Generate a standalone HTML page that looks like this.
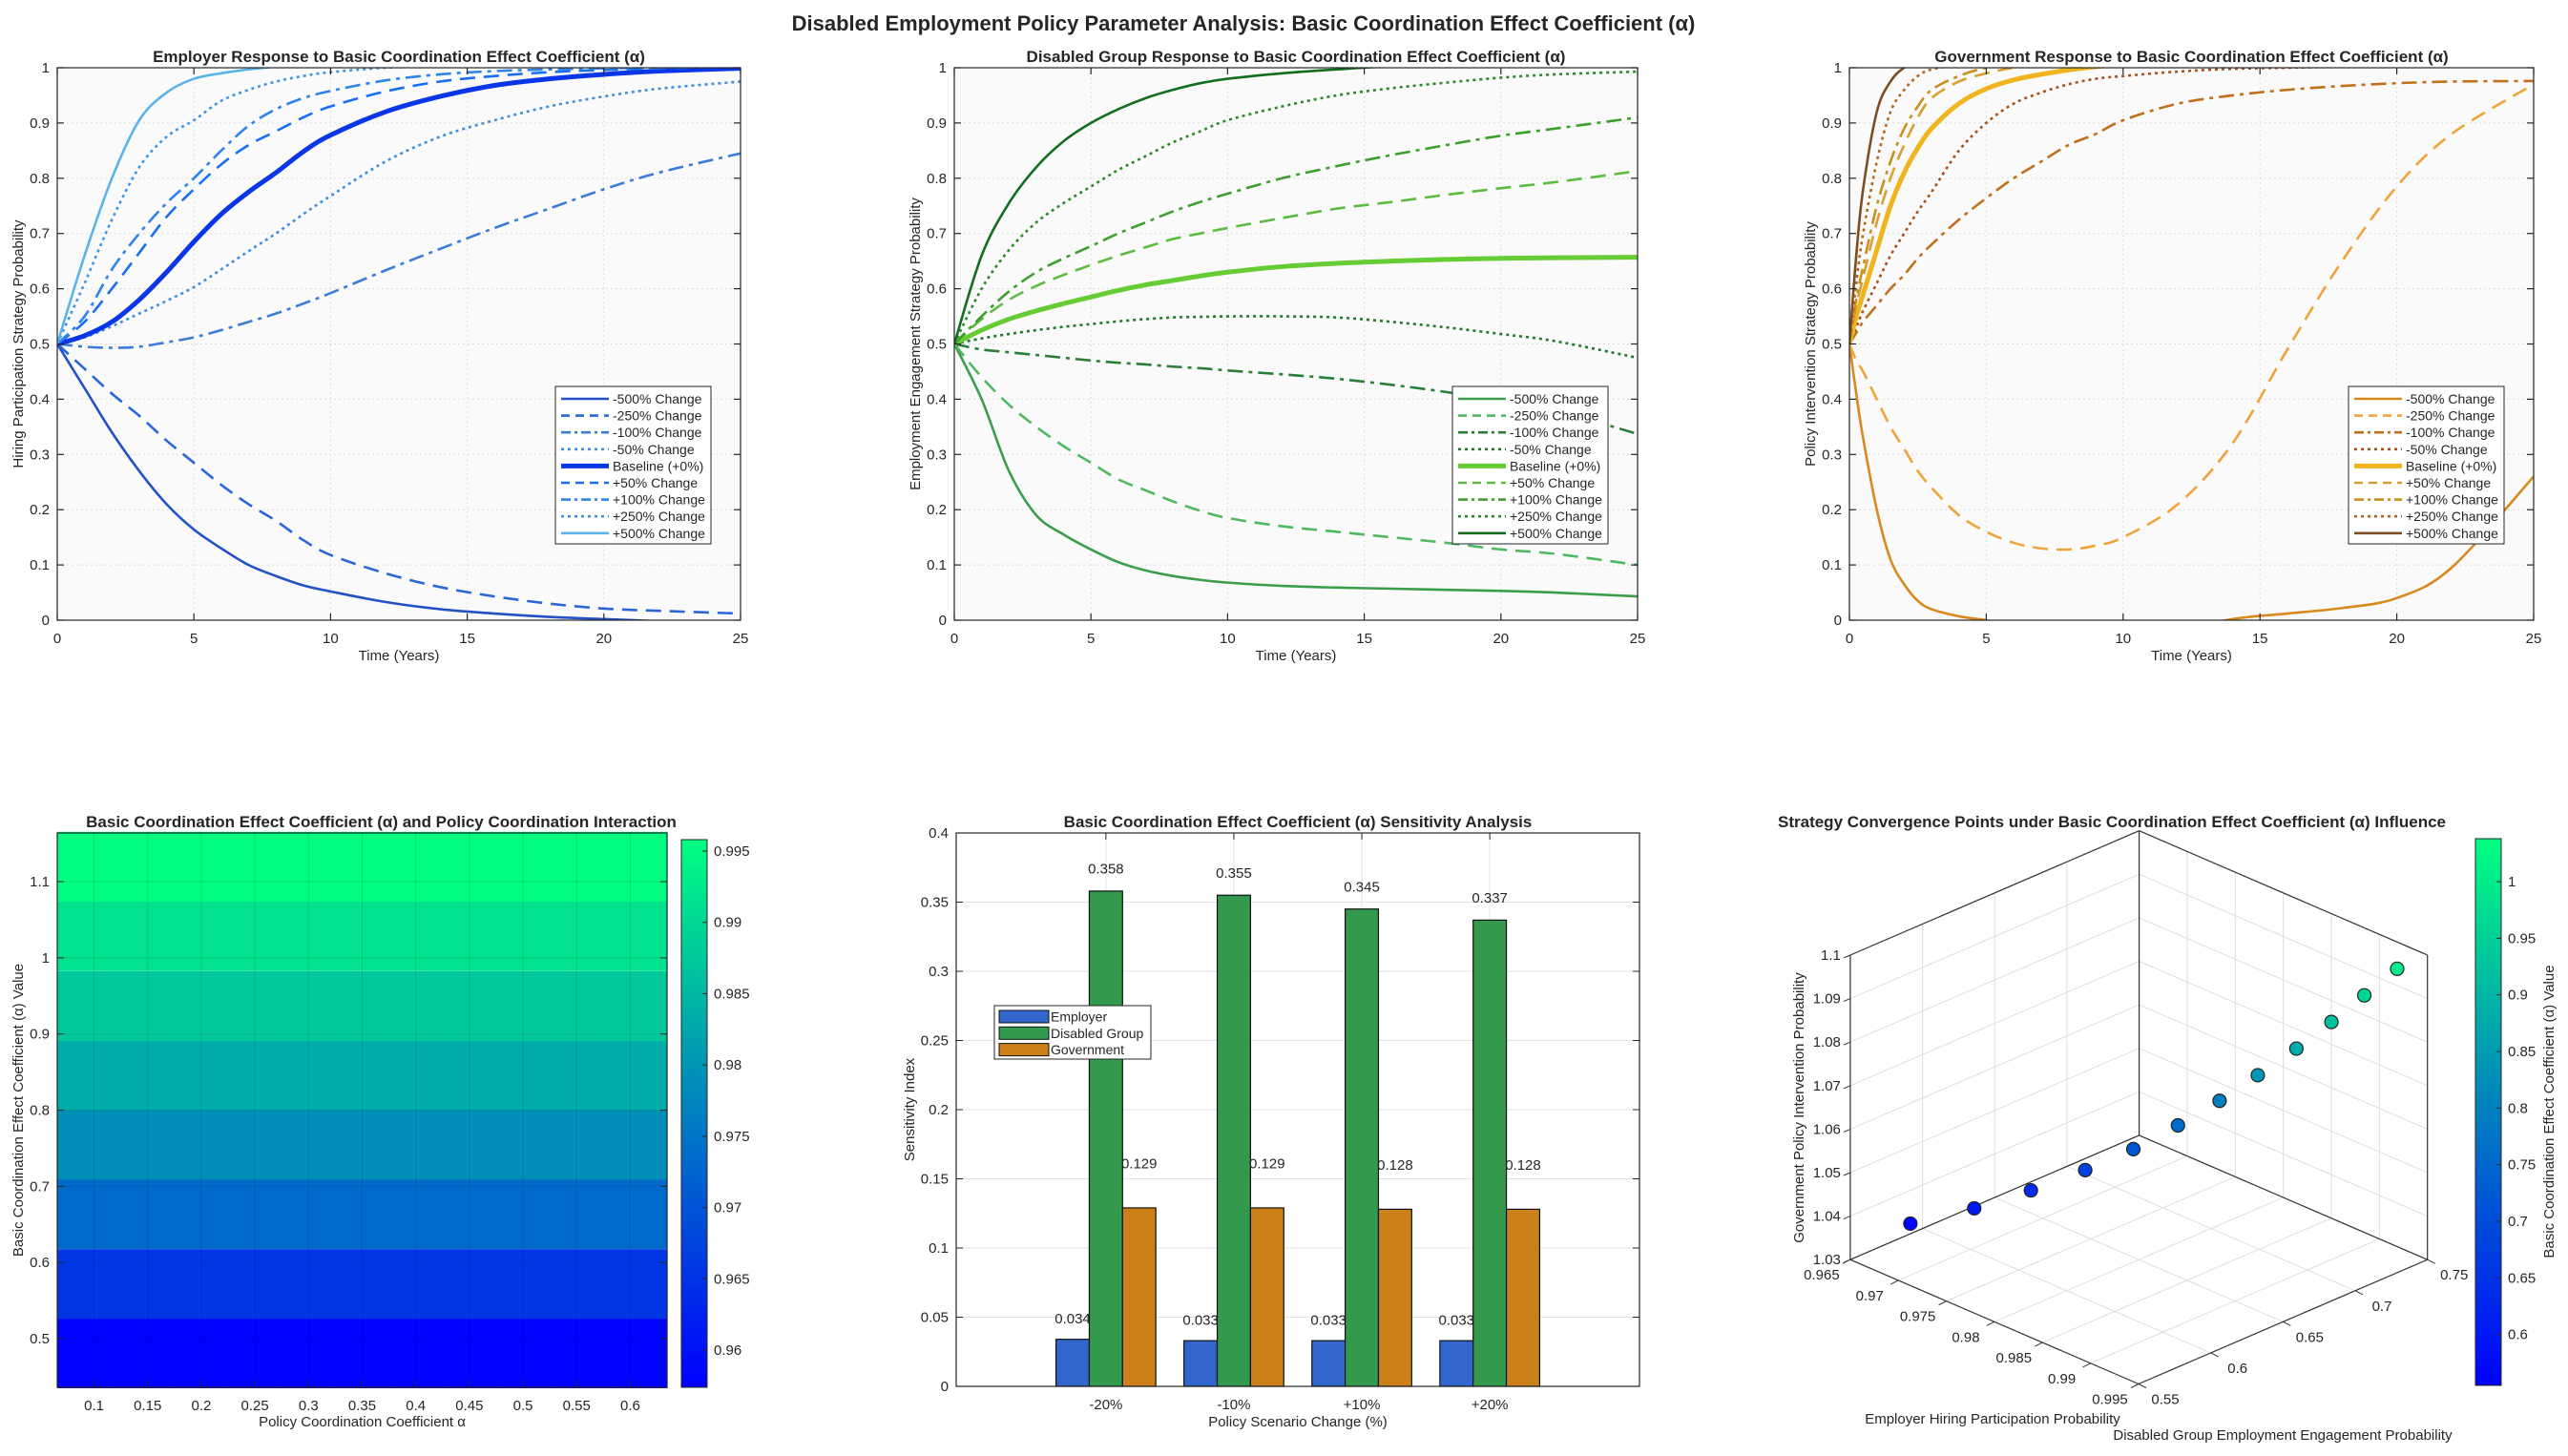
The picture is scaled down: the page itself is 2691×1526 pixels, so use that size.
<!DOCTYPE html>
<html><head><meta charset="utf-8"><title>Disabled Employment Policy Parameter Analysis</title>
<style>
html,body{margin:0;padding:0;background:#fff;}
svg{display:block;font-family:"Liberation Sans",Arial,sans-serif;}
text{fill:#262626;}
</style></head>
<body>
<svg id="fig" xmlns="http://www.w3.org/2000/svg" width="2691" height="1526" viewBox="0 0 2691 1526">
<rect x="0" y="0" width="2691" height="1526" fill="#ffffff"/>
<text x="1303" y="32" font-size="22" font-weight="bold" text-anchor="middle" fill="#000">Disabled Employment Policy Parameter Analysis: Basic Coordination Effect Coefficient (α)</text>
</svg>
<script>
// ===== Line panel data =====
const tA = [0,1,2,3,4,5,6,7,8,9,10,12,14,16,18,20,22,25];
const tG = [0,0.25,0.5,1,1.5,2,2.5,3,4,5,6,7,8,9,10,12,14,16,18,20,22,25];
const legendLabels = ['-500% Change','-250% Change','-100% Change','-50% Change','Baseline (+0%)','+50% Change','+100% Change','+250% Change','+500% Change'];
const yTicks = [0,0.1,0.2,0.3,0.4,0.5,0.6,0.7,0.8,0.9,1];
const yTickLabels = ['0','0.1','0.2','0.3','0.4','0.5','0.6','0.7','0.8','0.9','1'];
const xTicks = [0,5,10,15,20,25];

const empM500 = [0.5,0.42,0.34,0.27,0.21,0.164,0.13,0.10,0.08,0.063,0.052,0.033,0.02,0.012,0.006,0.002,-0.002,-0.01];
const empM250 = [0.5,0.455,0.41,0.37,0.325,0.285,0.245,0.21,0.18,0.145,0.118,0.085,0.06,0.043,0.03,0.021,0.017,0.012];
const empM100 = [0.5,0.495,0.493,0.495,0.503,0.512,0.525,0.54,0.555,0.573,0.592,0.633,0.672,0.71,0.745,0.78,0.81,0.845];
const empM50  = [0.5,0.512,0.532,0.555,0.578,0.603,0.635,0.668,0.7,0.735,0.768,0.83,0.875,0.905,0.93,0.948,0.962,0.975];
const empBase = [0.5,0.515,0.54,0.58,0.63,0.685,0.735,0.775,0.81,0.848,0.878,0.92,0.948,0.968,0.98,0.988,0.994,0.999];
const empP50  = [0.5,0.54,0.6,0.665,0.73,0.78,0.825,0.86,0.885,0.91,0.93,0.957,0.975,0.985,0.992,0.996,0.999,1.002];
const empP100 = [0.5,0.55,0.635,0.7,0.755,0.8,0.85,0.895,0.925,0.945,0.958,0.977,0.988,0.994,0.997,0.999,1.0,1.002];
const empP250 = [0.5,0.61,0.725,0.82,0.875,0.905,0.94,0.96,0.975,0.985,0.992,1.0,1.005,1.008,1.01,1.01,1.01,1.01];
const empP500 = [0.5,0.66,0.8,0.905,0.955,0.98,0.99,0.997,1.002,1.006,1.01,1.01,1.01,1.01,1.01,1.01,1.01,1.01];

const disM500 = [0.5,0.40,0.27,0.19,0.155,0.128,0.105,0.09,0.08,0.073,0.068,0.062,0.059,0.057,0.055,0.053,0.05,0.043];
const disM250 = [0.5,0.44,0.39,0.35,0.315,0.285,0.255,0.235,0.215,0.198,0.185,0.17,0.16,0.15,0.14,0.128,0.12,0.1];
const disM100 = [0.5,0.49,0.485,0.48,0.475,0.47,0.466,0.463,0.459,0.456,0.452,0.445,0.437,0.426,0.413,0.398,0.38,0.337];
const disM50  = [0.5,0.51,0.518,0.525,0.531,0.536,0.541,0.545,0.548,0.549,0.55,0.55,0.548,0.54,0.53,0.518,0.505,0.475];
const disBase = [0.5,0.525,0.545,0.56,0.573,0.585,0.597,0.607,0.615,0.623,0.63,0.64,0.646,0.65,0.653,0.655,0.656,0.657];
const disP50  = [0.5,0.545,0.58,0.605,0.625,0.643,0.66,0.675,0.69,0.70,0.71,0.728,0.745,0.757,0.77,0.782,0.793,0.813];
const disP100 = [0.5,0.55,0.595,0.63,0.655,0.677,0.7,0.72,0.74,0.757,0.772,0.8,0.822,0.842,0.86,0.877,0.89,0.91];
const disP250 = [0.5,0.6,0.67,0.72,0.755,0.785,0.815,0.84,0.865,0.885,0.905,0.93,0.95,0.963,0.973,0.982,0.988,0.993];
const disP500 = [0.5,0.66,0.755,0.82,0.867,0.9,0.925,0.945,0.96,0.972,0.98,0.99,0.997,1.003,1.006,1.008,1.01,1.01];

const govM500 = [0.5,0.41,0.33,0.20,0.11,0.065,0.035,0.02,0.007,0.0,-0.01,-0.02,-0.03,-0.035,-0.035,-0.02,0.002,0.012,0.022,0.04,0.095,0.26];
const govM250 = [0.5,0.47,0.45,0.40,0.35,0.31,0.27,0.24,0.19,0.16,0.14,0.13,0.128,0.135,0.15,0.21,0.32,0.49,0.65,0.785,0.88,0.97];
const govM100 = [0.5,0.52,0.54,0.57,0.6,0.625,0.655,0.68,0.725,0.764,0.80,0.83,0.86,0.88,0.905,0.935,0.95,0.96,0.967,0.972,0.975,0.976];
const govM50  = [0.5,0.53,0.56,0.61,0.66,0.70,0.74,0.775,0.85,0.9,0.935,0.955,0.97,0.98,0.985,0.993,0.998,1.0,1.002,1.004,1.005,1.005];
const govBase = [0.5,0.55,0.59,0.67,0.75,0.81,0.855,0.89,0.935,0.962,0.978,0.988,0.996,1.002,1.005,1.008,1.01,1.01,1.01,1.01,1.01,1.01];
const govP50  = [0.5,0.57,0.62,0.72,0.8,0.86,0.91,0.945,0.975,0.99,1.0,1.005,1.008,1.01,1.01,1.01,1.01,1.01,1.01,1.01,1.01,1.01];
const govP100 = [0.5,0.58,0.64,0.75,0.83,0.89,0.93,0.96,0.985,1.0,1.005,1.008,1.01,1.01,1.01,1.01,1.01,1.01,1.01,1.01,1.01,1.01];
const govP250 = [0.5,0.61,0.7,0.83,0.92,0.96,0.985,0.997,1.005,1.01,1.01,1.01,1.01,1.01,1.01,1.01,1.01,1.01,1.01,1.01,1.01,1.01];
const govP500 = [0.5,0.66,0.78,0.92,0.975,1.0,1.01,1.015,1.02,1.02,1.02,1.02,1.02,1.02,1.02,1.02,1.02,1.02,1.02,1.02,1.02,1.02];

// ===== Heatmap data =====
const heatAlpha = [0.481,0.572,0.664,0.755,0.846,0.937,1.029,1.12];
const heatPolicy = [0.0916,0.1433,0.195,0.2467,0.2984,0.35,0.4017,0.4534,0.505,0.5567,0.6084];
const heatRowVals = [0.9575,0.9655,0.9735,0.979,0.9835,0.9875,0.9915,0.9955];
const heatXTicks = [0.1,0.15,0.2,0.25,0.3,0.35,0.4,0.45,0.5,0.55,0.6];
const heatYTicks = [0.5,0.6,0.7,0.8,0.9,1,1.1];
const heatCbTicks = [0.96,0.965,0.97,0.975,0.98,0.985,0.99,0.995];

// ===== Bar chart data =====
const barCats = ['-20%','-10%','+10%','+20%'];
const barEmployer = [0.034,0.033,0.033,0.033];
const barDisabled = [0.358,0.355,0.345,0.337];
const barGovernment = [0.129,0.129,0.128,0.128];
const barYTicks = [0,0.05,0.1,0.15,0.2,0.25,0.3,0.35,0.4];
const barYTickLabels = ['0','0.05','0.1','0.15','0.2','0.25','0.3','0.35','0.4'];

// ===== 3D scatter data =====
const scEmployer = [0.9664,0.9684,0.9697,0.9706,0.9711,0.9737,0.9771,0.9802,0.9832,0.9860,0.9887,0.9914];
const scDisabled = [0.5823,0.6132,0.6438,0.6754,0.7054,0.719,0.7252,0.731,0.7378,0.7434,0.7482,0.753];
const scGovernment = [1.035,1.036,1.037,1.038,1.039,1.045,1.053,1.061,1.069,1.077,1.085,1.093];
const scAlpha = [0.56,0.6,0.64,0.68,0.72,0.76,0.8,0.84,0.88,0.92,0.96,1.0];
const scZTicks = [1.03,1.04,1.05,1.06,1.07,1.08,1.09,1.1];
const scEmpTicks = [0.965,0.97,0.975,0.98,0.985,0.99,0.995];
const scDisTicks = [0.55,0.6,0.65,0.7,0.75];
const scCbTicks = [0.6,0.65,0.7,0.75,0.8,0.85,0.9,0.95,1];

const NS = 'http://www.w3.org/2000/svg';
const svg = document.getElementById('fig');
function mk(tag, attrs, parent) {
  const e = document.createElementNS(NS, tag);
  for (const k in attrs) e.setAttribute(k, attrs[k]);
  (parent || svg).appendChild(e);
  return e;
}
function txt(s, attrs, parent) { const e = mk('text', attrs, parent); e.textContent = s; return e; }
function winter(t) { t = Math.max(0, Math.min(1, t)); return 'rgb(0,' + Math.round(255 * t) + ',' + Math.round(255 * (1 - 0.5 * t)) + ')'; }
function smooth(pts) {
  let d = 'M' + pts[0][0].toFixed(2) + ',' + pts[0][1].toFixed(2);
  for (let i = 0; i < pts.length - 1; i++) {
    const p0 = pts[Math.max(0, i - 1)], p1 = pts[i], p2 = pts[i + 1], p3 = pts[Math.min(pts.length - 1, i + 2)];
    const c1x = p1[0] + (p2[0] - p0[0]) / 6, c1y = p1[1] + (p2[1] - p0[1]) / 6;
    const c2x = p2[0] - (p3[0] - p1[0]) / 6, c2y = p2[1] - (p3[1] - p1[1]) / 6;
    d += ' C' + c1x.toFixed(2) + ',' + c1y.toFixed(2) + ' ' + c2x.toFixed(2) + ',' + c2y.toFixed(2) + ' ' + p2[0].toFixed(2) + ',' + p2[1].toFixed(2);
  }
  return d;
}
const dashes = ['', '16,9', '16,6,4,6', '3,4', '', '16,9', '16,6,4,6', '3,4', ''];
const widths = [2.6, 2.6, 2.6, 2.6, 5, 2.6, 2.6, 2.6, 2.6];
const seriesNames = ['minus-500','minus-250','minus-100','minus-50','baseline','plus-50','plus-100','plus-250','plus-500'];

function linePanel(p) {
  const g = mk('g', {});
  
  
  const sx = v => p.L + v / 25 * (p.R - p.L);
  const sy = v => p.B - v * (p.B - p.T);
  const bg = mk('rect', {x: p.L, y: p.T, width: p.R - p.L, height: p.B - p.T, fill: '#fafafa'}, g);
  
  
  yTicks.forEach(v => {
    const l = mk('line', {x1: p.L, x2: p.R, y1: sy(v), y2: sy(v), stroke: '#dcdcdc', 'stroke-width': 1, 'stroke-dasharray': '2,3'}, g);
    
    
  });
  xTicks.forEach(v => {
    const l = mk('line', {x1: sx(v), x2: sx(v), y1: p.T, y2: p.B, stroke: '#dcdcdc', 'stroke-width': 1, 'stroke-dasharray': '2,3'}, g);
    
    
  });
  const cp = mk('clipPath', {id: p.name + '-clip'}, g);
  mk('rect', {x: p.L, y: p.T, width: p.R - p.L, height: p.B - p.T}, cp);
  const lg = mk('g', {'clip-path': 'url(#' + p.name + '-clip)'}, g);
  
  
  p.series.forEach((arr, i) => {
    const pts = arr.map((v, j) => [sx(p.t[j]), sy(v)]);
    const a = {d: smooth(pts), fill: 'none', stroke: p.colors[i], 'stroke-width': widths[i], 'stroke-linejoin': 'round'};
    if (dashes[i]) a['stroke-dasharray'] = dashes[i];
    const path = mk('path', a, lg);
    
    
  });
  const box = mk('rect', {x: p.L, y: p.T, width: p.R - p.L, height: p.B - p.T, fill: 'none', stroke: '#262626', 'stroke-width': 1.2}, g);
  
  
  yTicks.forEach((v, i) => {
    mk('line', {x1: p.L, x2: p.L + 7, y1: sy(v), y2: sy(v), stroke: '#262626', 'stroke-width': 1.2}, g);
    mk('line', {x1: p.R, x2: p.R - 7, y1: sy(v), y2: sy(v), stroke: '#262626', 'stroke-width': 1.2}, g);
    const t = txt(yTickLabels[i], {x: p.L - 8, y: sy(v) + 5, 'font-size': 15, 'text-anchor': 'end'}, g);
    
    
  });
  xTicks.forEach(v => {
    mk('line', {x1: sx(v), x2: sx(v), y1: p.B, y2: p.B - 7, stroke: '#262626', 'stroke-width': 1.2}, g);
    mk('line', {x1: sx(v), x2: sx(v), y1: p.T, y2: p.T + 7, stroke: '#262626', 'stroke-width': 1.2}, g);
    const t = txt(String(v), {x: sx(v), y: p.B + 24, 'font-size': 15, 'text-anchor': 'middle'}, g);
    
    
  });
  const ti = txt(p.title, {x: (p.L + p.R) / 2, y: p.T - 6, 'font-size': 17, 'font-weight': 'bold', 'text-anchor': 'middle', fill: '#000'}, g);
  
  
  const xl = txt('Time (Years)', {x: (p.L + p.R) / 2, y: p.B + 42, 'font-size': 15, 'text-anchor': 'middle'}, g);
  
  
  const cy = (p.T + p.B) / 2;
  const yl = txt(p.ylabel, {x: p.L - 36, y: cy, 'font-size': 15, 'text-anchor': 'middle', transform: 'rotate(-90 ' + (p.L - 36) + ' ' + cy + ')'}, g);
  
  
  const lgR = p.R - 31, lgL = lgR - 163, lgT = 405, lgH = 165;
  const leg = mk('g', {}, g);
  
  
  mk('rect', {x: lgL, y: lgT, width: lgR - lgL, height: lgH, fill: '#fff', stroke: '#262626', 'stroke-width': 1}, leg);
  legendLabels.forEach((lab, i) => {
    const yy = lgT + 13 + i * 17.6;
    const e = mk('g', {}, leg);
    
    
    const a = {x1: lgL + 6, x2: lgL + 56, y1: yy, y2: yy, stroke: p.colors[i], 'stroke-width': widths[i]};
    if (dashes[i]) a['stroke-dasharray'] = dashes[i] === '16,9' ? '9,6' : dashes[i] === '16,6,4,6' ? '10,4,3,4' : dashes[i];
    mk('line', a, e);
    txt(lab, {x: lgL + 60, y: yy + 5, 'font-size': 14}, e);
  });
}

linePanel({name: 'employer-panel', L: 60, R: 776, T: 71, B: 650, t: tA,
  series: [empM500, empM250, empM100, empM50, empBase, empP50, empP100, empP250, empP500],
  colors: ['#2352c6', '#2a66d8', '#3a7cd8', '#3d8fe0', '#0a36e8', '#1a6ff0', '#2e84e8', '#3d95e6', '#5ab4e8'],
  title: 'Employer Response to Basic Coordination Effect Coefficient (α)', ylabel: 'Hiring Participation Strategy Probability'});
linePanel({name: 'disabled-group-panel', L: 1000, R: 1716, T: 71, B: 650, t: tA,
  series: [disM500, disM250, disM100, disM50, disBase, disP50, disP100, disP250, disP500],
  colors: ['#3c9e4c', '#50b860', '#2a7e36', '#1f7a2a', '#66cc33', '#5cbc40', '#3f9e30', '#2a8a2a', '#146e20'],
  title: 'Disabled Group Response to Basic Coordination Effect Coefficient (α)', ylabel: 'Employment Engagement Strategy Probability'});
linePanel({name: 'government-panel', L: 1938, R: 2655, T: 71, B: 650, t: tG,
  series: [govM500, govM250, govM100, govM50, govBase, govP50, govP100, govP250, govP500],
  colors: ['#d98a1e', '#f0a33a', '#c0701a', '#a8521a', '#f0b41e', '#d8a030', '#c8901e', '#b5651d', '#7d4e24'],
  title: 'Government Response to Basic Coordination Effect Coefficient (α)', ylabel: 'Policy Intervention Strategy Probability'});

// ===== Heatmap =====
(function () {
  const L = 60, R = 699, T = 873, B = 1454, xmin = 0.0657, xmax = 0.6343, ymin = 0.436, ymax = 1.164;
  const vmin = 0.9574, vmax = 0.9958;
  const sx = v => L + (v - xmin) / (xmax - xmin) * (R - L);
  const sy = v => B - (v - ymin) / (ymax - ymin) * (B - T);
  const g = mk('g', {});
  
  
  const dy = heatAlpha[1] - heatAlpha[0], dx = heatPolicy[1] - heatPolicy[0];
  heatAlpha.forEach((a, i) => {
    heatPolicy.forEach((pv, j) => {
      const x0 = sx(pv - dx / 2), x1 = sx(pv + dx / 2), y0 = sy(a + dy / 2), y1 = sy(a - dy / 2);
      const c = mk('rect', {x: x0, y: y0, width: x1 - x0 + 0.6, height: y1 - y0 + 0.6, fill: winter((heatRowVals[i] - vmin) / (vmax - vmin))}, g);
      
      
    });
  });
  heatXTicks.forEach(v => {
    mk('line', {x1: sx(v), x2: sx(v), y1: T, y2: B, stroke: '#000', 'stroke-opacity': 0.12, 'stroke-width': 1}, g);
    mk('line', {x1: sx(v), x2: sx(v), y1: B, y2: B - 7, stroke: '#262626'}, g);
    const t = txt(String(v), {x: sx(v), y: B + 24, 'font-size': 15, 'text-anchor': 'middle'}, g);
    
    
  });
  heatYTicks.forEach(v => {
    mk('line', {x1: L, x2: R, y1: sy(v), y2: sy(v), stroke: '#000', 'stroke-opacity': 0.1, 'stroke-width': 1}, g);
    mk('line', {x1: L, x2: L + 7, y1: sy(v), y2: sy(v), stroke: '#262626'}, g);
    mk('line', {x1: R, x2: R - 7, y1: sy(v), y2: sy(v), stroke: '#262626'}, g);
    const t = txt(String(v), {x: L - 8, y: sy(v) + 5, 'font-size': 15, 'text-anchor': 'end'}, g);
    
    
  });
  mk('rect', {x: L, y: T, width: R - L, height: B - T, fill: 'none', stroke: '#262626', 'stroke-width': 1.2}, g);
  const ti = txt('Basic Coordination Effect Coefficient (α) and Policy Coordination Interaction', {x: (L + R) / 2 + 20, y: 867, 'font-size': 17, 'font-weight': 'bold', 'text-anchor': 'middle', fill: '#000'}, g);
  
  
  const xl = txt('Policy Coordination Coefficient α', {x: (L + R) / 2, y: 1495, 'font-size': 15, 'text-anchor': 'middle'}, g);
  
  
  const cy = (T + B) / 2;
  const yl = txt('Basic Coordination Effect Coefficient (α) Value', {x: 24, y: cy, 'font-size': 15, 'text-anchor': 'middle', transform: 'rotate(-90 24 ' + cy + ')'}, g);
  
  
  const cb = mk('g', {}, g);
  
  
  const CL = 714, CR = 741, CT = 880, CB = 1454;
  const grad = mk('linearGradient', {id: 'wgrad1', x1: 0, y1: 1, x2: 0, y2: 0}, cb);
  mk('stop', {offset: 0, 'stop-color': winter(0)}, grad);
  mk('stop', {offset: 1, 'stop-color': winter(1)}, grad);
  mk('rect', {x: CL, y: CT, width: CR - CL, height: CB - CT, fill: 'url(#wgrad1)', stroke: '#262626', 'stroke-width': 1}, cb);
  heatCbTicks.forEach(v => {
    const y = CB - (v - vmin) / (vmax - vmin) * (CB - CT);
    mk('line', {x1: CR, x2: CR - 5, y1: y, y2: y, stroke: '#262626'}, cb);
    const t = txt(String(v), {x: CR + 7, y: y + 5, 'font-size': 15}, cb);
    
    
  });
})();

// ===== Bar chart =====
(function () {
  const L = 1002, R = 1718, T = 873, B = 1453, xmin = -0.17, xmax = 5.17, ymax = 0.4;
  const sx = v => L + (v - xmin) / (xmax - xmin) * (R - L);
  const sy = v => B - v / ymax * (B - T);
  const g = mk('g', {});
  
  
  barYTicks.forEach((v, i) => {
    mk('line', {x1: L, x2: R, y1: sy(v), y2: sy(v), stroke: '#e3e3e3', 'stroke-width': 1}, g);
    mk('line', {x1: L, x2: L + 7, y1: sy(v), y2: sy(v), stroke: '#262626'}, g);
    mk('line', {x1: R, x2: R - 7, y1: sy(v), y2: sy(v), stroke: '#262626'}, g);
    const t = txt(barYTickLabels[i], {x: L - 8, y: sy(v) + 5, 'font-size': 15, 'text-anchor': 'end'}, g);
    
    
  });
  barCats.forEach((c, i) => {
    const x = sx(i + 1);
    mk('line', {x1: x, x2: x, y1: T, y2: B, stroke: '#e3e3e3', 'stroke-width': 1}, g);
    mk('line', {x1: x, x2: x, y1: B, y2: B - 7, stroke: '#262626'}, g);
    mk('line', {x1: x, x2: x, y1: T, y2: T + 7, stroke: '#262626'}, g);
    const t = txt(c, {x: x, y: B + 24, 'font-size': 15, 'text-anchor': 'middle'}, g);
    
    
  });
  const groups = [barEmployer, barDisabled, barGovernment];
  const gColors = ['#3366cc', '#33994d', '#cc801a'];
  const gNames = ['employer', 'disabled-group', 'government'];
  const offs = [-0.26, 0, 0.26], lblOff = [0.015, 0.016, 0.032], bw = 0.26;
  groups.forEach((arr, k) => {
    arr.forEach((v, i) => {
      const xc = sx(i + 1 + offs[k]);
      const w = sx(bw) - sx(0);
      const b = mk('rect', {x: xc - w / 2, y: sy(v), width: w, height: sy(0) - sy(v), fill: gColors[k], stroke: '#111', 'stroke-width': 1.2}, g);
      
      
      const t = txt(v.toFixed(3), {x: xc, y: sy(v + lblOff[k]) + 5, 'font-size': 15, 'text-anchor': 'middle'}, g);
      
      
    });
  });
  mk('rect', {x: L, y: T, width: R - L, height: B - T, fill: 'none', stroke: '#262626', 'stroke-width': 1.2}, g);
  const ti = txt('Basic Coordination Effect Coefficient (α) Sensitivity Analysis', {x: (L + R) / 2, y: 867, 'font-size': 17, 'font-weight': 'bold', 'text-anchor': 'middle', fill: '#000'}, g);
  
  
  const xl = txt('Policy Scenario Change (%)', {x: (L + R) / 2, y: 1495, 'font-size': 15, 'text-anchor': 'middle'}, g);
  
  
  const cy = (T + B) / 2;
  const yl = txt('Sensitivity Index', {x: 958, y: cy, 'font-size': 15, 'text-anchor': 'middle', transform: 'rotate(-90 958 ' + cy + ')'}, g);
  
  
  const leg = mk('g', {}, g);
  
  
  mk('rect', {x: 1042, y: 1054, width: 164, height: 56, fill: '#fff', stroke: '#262626', 'stroke-width': 1}, leg);
  ['Employer', 'Disabled Group', 'Government'].forEach((lab, k) => {
    const yy = 1059 + k * 17.3;
    const e = mk('g', {}, leg);
    
    
    mk('rect', {x: 1047, y: yy, width: 52, height: 13, fill: gColors[k], stroke: '#111', 'stroke-width': 1}, e);
    txt(lab, {x: 1101, y: yy + 11.5, 'font-size': 14}, e);
  });
})();

// ===== 3D scatter =====
(function () {
  const F = [2241, 1450.5], dL = [-302.1, -130.3], dR = [302.7, -130.3], zs = 4560;
  const P = (e, d, z) => {
    const u = (e - 0.995) / -0.03, v = (d - 0.55) / 0.2;
    return [F[0] + u * dL[0] + v * dR[0], F[1] + u * dL[1] + v * dR[1] - (z - 1.03) * zs];
  };
  const g = mk('g', {});
  
  
  const ln = (a, b, st, w, nm) => {
    const l = mk('line', {x1: a[0], y1: a[1], x2: b[0], y2: b[1], stroke: st, 'stroke-width': w}, g);
    
    
    return l;
  };
  const grid = '#dedede';
  scDisTicks.forEach(d => { ln(P(0.965, d, 1.03), P(0.965, d, 1.1), grid, 1, 'gridline'); ln(P(0.965, d, 1.03), P(0.995, d, 1.03), grid, 1, 'gridline'); });
  scEmpTicks.forEach(e => { ln(P(e, 0.75, 1.03), P(e, 0.75, 1.1), grid, 1, 'gridline'); ln(P(e, 0.55, 1.03), P(e, 0.75, 1.03), grid, 1, 'gridline'); });
  scZTicks.forEach(z => { ln(P(0.965, 0.55, z), P(0.965, 0.75, z), grid, 1, 'gridline'); ln(P(0.965, 0.75, z), P(0.995, 0.75, z), grid, 1, 'gridline'); });
  const ax = '#333';
  ln(P(0.965, 0.55, 1.03), P(0.965, 0.55, 1.1), ax, 1.2, 'z-axis-line');
  ln(P(0.965, 0.75, 1.03), P(0.965, 0.75, 1.1), ax, 1.2, 'box-edge');
  ln(P(0.995, 0.75, 1.03), P(0.995, 0.75, 1.1), ax, 1.2, 'box-edge');
  ln(P(0.965, 0.55, 1.1), P(0.965, 0.75, 1.1), ax, 1.2, 'box-edge');
  ln(P(0.965, 0.75, 1.1), P(0.995, 0.75, 1.1), ax, 1.2, 'box-edge');
  ln(P(0.965, 0.55, 1.03), P(0.965, 0.75, 1.03), ax, 1.2, 'box-edge');
  ln(P(0.965, 0.75, 1.03), P(0.995, 0.75, 1.03), ax, 1.2, 'box-edge');
  ln(P(0.965, 0.55, 1.03), P(0.995, 0.55, 1.03), ax, 1.2, 'x-axis-line');
  ln(P(0.995, 0.55, 1.03), P(0.995, 0.75, 1.03), ax, 1.2, 'y-axis-line');
  scZTicks.forEach(z => {
    const p = P(0.965, 0.55, z);
    ln(p, [p[0] - 7, p[1] + 3], ax, 1, 'z-tick');
    const t = txt(String(z), {x: p[0] - 10, y: p[1] + 5, 'font-size': 15, 'text-anchor': 'end'}, g);
    
    
  });
  scEmpTicks.forEach(e => {
    const p = P(e, 0.55, 1.03);
    ln(p, [p[0] - 8, p[1] + 4], ax, 1, 'x-tick');
    const t = txt(String(e), {x: p[0] - 30, y: p[1] + 21, 'font-size': 15, 'text-anchor': 'middle'}, g);
    
    
  });
  scDisTicks.forEach(d => {
    const p = P(0.995, d, 1.03);
    ln(p, [p[0] + 8, p[1] + 4], ax, 1, 'y-tick');
    const t = txt(String(d), {x: p[0] + 28, y: p[1] + 21, 'font-size': 15, 'text-anchor': 'middle'}, g);
    
    
  });
  const amin = 0.555, amax = 1.038;
  scEmployer.forEach((e, i) => {
    const p = P(e, scDisabled[i], scGovernment[i]);
    const c = mk('circle', {cx: p[0], cy: p[1], r: 7, fill: winter((scAlpha[i] - amin) / (amax - amin)), stroke: '#222', 'stroke-width': 1.2}, g);
    
    
  });
  const ti = txt('Strategy Convergence Points under Basic Coordination Effect Coefficient (α) Influence', {x: 2213, y: 867, 'font-size': 17, 'font-weight': 'bold', 'text-anchor': 'middle', fill: '#000'}, g);
  
  
  const xl = txt('Employer Hiring Participation Probability', {x: 2088, y: 1492, 'font-size': 15, 'text-anchor': 'middle'}, g);
  
  
  const yl = txt('Disabled Group Employment Engagement Probability', {x: 2392, y: 1509, 'font-size': 15, 'text-anchor': 'middle'}, g);
  
  
  const zl = txt('Government Policy Intervention Probability', {x: 1890, y: 1161, 'font-size': 15, 'text-anchor': 'middle', transform: 'rotate(-90 1890 1161)'}, g);
  
  
  const cb = mk('g', {}, g);
  
  
  const CL = 2594, CR = 2621, CT = 879, CB = 1452;
  const grad = mk('linearGradient', {id: 'wgrad2', x1: 0, y1: 1, x2: 0, y2: 0}, cb);
  mk('stop', {offset: 0, 'stop-color': winter(0)}, grad);
  mk('stop', {offset: 1, 'stop-color': winter(1)}, grad);
  mk('rect', {x: CL, y: CT, width: CR - CL, height: CB - CT, fill: 'url(#wgrad2)', stroke: '#262626', 'stroke-width': 1}, cb);
  scCbTicks.forEach(v => {
    const y = CB - (v - amin) / (amax - amin) * (CB - CT);
    mk('line', {x1: CR, x2: CR - 5, y1: y, y2: y, stroke: '#262626'}, cb);
    const t = txt(String(v), {x: CR + 7, y: y + 5, 'font-size': 15}, cb);
    
    
  });
  const cl = txt('Basic Coordination Effect Coefficient (α) Value', {x: 2676, y: 1165, 'font-size': 15, 'text-anchor': 'middle', transform: 'rotate(-90 2676 1165)'}, cb);
  
  
})();
</script>
</body></html>
